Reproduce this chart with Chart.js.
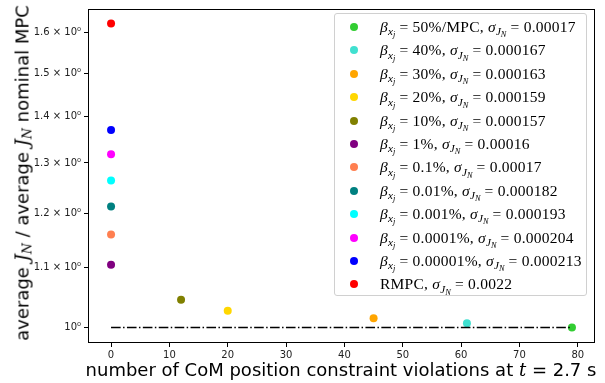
<!DOCTYPE html>
<html>
<head>
<meta charset="utf-8">
<script src="https://cdn.jsdelivr.net/npm/chart.js@4"></script>
<style>
  body { margin: 0; background: #fff; }
  #wrap { position: relative; width: 605px; height: 383px; }
  #chart { position: absolute; left: 0; top: 0; }
  .xtitle, .ytitle {
    position: absolute; font-family: "DejaVu Sans", sans-serif; font-size: 18px;
    color: #000; white-space: nowrap;
  }
  .xtitle { left: 0; width: 682px; text-align: center; top: 359px; }
  .ytitle { left: 22px; top: 173px; transform: translate(-50%, -50%) rotate(-90deg); }
  .math { font-family: "DejaVu Serif", serif; font-style: italic; }
  .xtitle sub, .ytitle sub { font-size: 70%; vertical-align: -0.25em; line-height: 0; }
  #legend {
    position: absolute; left: 334px; top: 13px; width: 253px; height: 283px;
    border: 1px solid #d0d0d0; border-radius: 3px; background: rgba(255,255,255,0.8);
    font-family: "Liberation Serif", serif; font-size: 15.5px; letter-spacing: 0.25px; color: #000;
    box-sizing: border-box; padding-top: 1px;
  }
  .row { height: 23.4px; line-height: 23.4px; position: relative; white-space: nowrap; }
  .dot { position: absolute; left: 15px; top: 8px; width: 8px; height: 8px; border-radius: 50%; }
  .lbl { position: absolute; left: 45px; }
  .lbl i { font-style: italic; }
  .lbl sub { font-size: 72%; vertical-align: -0.3em; line-height: 0; letter-spacing: 0; }
  .lbl sub sub { font-size: 75%; vertical-align: -0.25em; }
</style>
</head>
<body>
<div id="wrap">
  <canvas id="chart" width="605" height="383"></canvas>
  <div id="legend"></div>
  <div class="ytitle">average <span class="math">J<sub>N</sub></span> / average <span class="math">J<sub>N</sub></span> nominal MPC</div>
  <div class="xtitle">number of CoM position constraint violations at <span class="math">t</span> = 2.7 s</div>
</div>
<script>
const seriesNames = ["50%/MPC", "40%", "30%", "20%", "10%", "1%", "0.1%", "0.01%", "0.001%", "0.0001%", "0.00001%", "RMPC"];
const sigmaValues = ["0.00017", "0.000167", "0.000163", "0.000159", "0.000157", "0.00016", "0.00017", "0.000182", "0.000193", "0.000204", "0.000213", "0.0022"];
const violations = [79, 61, 45, 20, 12, 0, 0, 0, 0, 0, 0, 0];
const costRatio = [1.0, 1.0068, 1.0148, 1.027, 1.045, 1.105, 1.160, 1.213, 1.264, 1.318, 1.370, 1.624];
const colors = ["#32cd32", "#40e0d0", "#ffa500", "#ffd700", "#808000", "#800080", "#ff7f50", "#008080", "#00ffff", "#ff00ff", "#0000ff", "#ff0000"];
const nominalLineX = [0, 79];
const nominalLineY = [1.0, 1.0];
const xTicks = [0, 10, 20, 30, 40, 50, 60, 70, 80];
const yTicks = [1.0, 1.1, 1.2, 1.3, 1.4, 1.5, 1.6];
const yTickLabels = ["10⁰", "1.1 × 10⁰", "1.2 × 10⁰", "1.3 × 10⁰", "1.4 × 10⁰", "1.5 × 10⁰", "1.6 × 10⁰"];

const datasets = [{
  type: "line",
  data: nominalLineX.map((x, i) => ({ x, y: nominalLineY[i] })),
  borderColor: "#000",
  borderWidth: 1.5,
  borderDash: [9.6, 2.4, 1.5, 2.4],
  pointRadius: 0,
  fill: false,
}];
seriesNames.forEach((name, i) => {
  datasets.push({
    type: "scatter",
    data: [{ x: violations[i], y: costRatio[i] }],
    backgroundColor: colors[i],
    borderColor: colors[i],
    pointRadius: 4,
    borderWidth: 0,
  });
});

const frame = {
  id: "frame",
  afterDraw(chart) {
    const { ctx, chartArea: a } = chart;
    ctx.save();
    ctx.strokeStyle = "#000";
    ctx.lineWidth = 1;
    ctx.strokeRect(a.left + 0.5, a.top + 0.5, a.right - a.left - 1, a.bottom - a.top - 1);
    ctx.restore();
  },
};

const tickFont = { family: "DejaVu Sans", size: 10 };

new Chart(document.querySelector("#chart"), {
  type: "scatter",
  data: { datasets },
  plugins: [frame],
  options: {
    responsive: false,
    animation: false,
    layout: { padding: { top: 6, right: 10, left: 0, bottom: 0 } },
    plugins: { legend: { display: false }, tooltip: { enabled: false } },
    scales: {
      x: {
        type: "linear",
        min: -3.95,
        max: 82.95,
        afterBuildTicks: (s) => { s.ticks = xTicks.map((v) => ({ value: v })); },
        afterFit: (s) => { s.height = 40; },
        grid: { drawOnChartArea: false, drawTicks: true, tickLength: 4, color: "#000" },
        border: { display: false },
        ticks: { font: tickFont, color: "#222", padding: 2, maxRotation: 0 },
      },
      y: {
        type: "logarithmic",
        min: 0.9755,
        max: 1.662,
        afterBuildTicks: (s) => { s.ticks = yTicks.map((v) => ({ value: v })); },
        afterFit: (s) => { s.width = 88; },
        grid: { drawOnChartArea: false, drawTicks: true, tickLength: 4, color: "#000" },
        border: { display: false },
        ticks: {
          font: tickFont, color: "#222", padding: 3,
          callback: (v) => yTickLabels[yTicks.findIndex((t) => Math.abs(t - v) < 1e-6)],
        },
      },
    },
  },
});

const legend = document.querySelector("#legend");
seriesNames.forEach((name, i) => {
  const lead = name === "RMPC"
    ? "RMPC"
    : `<i>β</i><sub><i>x</i><sub><i>j</i></sub></sub> = ${name}`;
  const row = document.createElement("div");
  row.className = "row";
  row.innerHTML = `<span class="dot" style="background:${colors[i]}"></span>` +
    `<span class="lbl">${lead}, <i>σ</i><sub><i>J</i><sub><i>N</i></sub></sub> = ${sigmaValues[i]}</span>`;
  legend.appendChild(row);
});
</script>
</body>
</html>
